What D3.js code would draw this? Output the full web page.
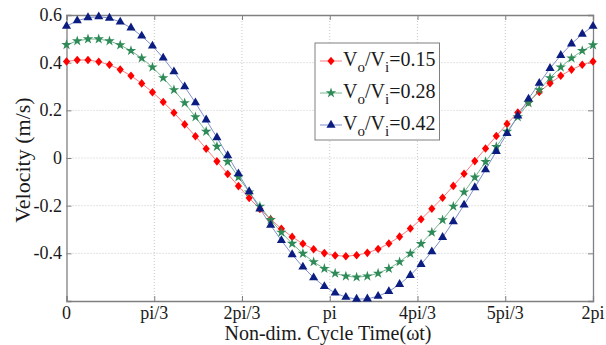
<!DOCTYPE html>
<html><head><meta charset="utf-8">
<script src="https://cdn.jsdelivr.net/npm/d3@7"></script>
<style>body{margin:0;background:#fff}svg{display:block}</style>
</head><body>
<svg id="c" width="606" height="345"></svg>
<script>
// ---- data ----
const xTickValues = [0, Math.PI/3, 2*Math.PI/3, Math.PI, 4*Math.PI/3, 5*Math.PI/3, 2*Math.PI];
const xTickLabels = ["0","pi/3","2pi/3","pi","4pi/3","5pi/3","2pi"];
const yTickValues = [-0.4,-0.2,0,0.2,0.4,0.6];
const yTickLabels = ["-0.4","-0.2","0","0.2","0.4","0.6"];
const ratioLabels = ["0.15","0.28","0.42"];
const v015 = [0.405,0.411,0.411,0.404,0.391,0.371,0.345,0.313,0.276,0.235,0.190,0.141,0.091,0.039,-0.014,-0.067,-0.118,-0.168,-0.214,-0.257,-0.297,-0.331,-0.360,-0.383,-0.399,-0.409,-0.412,-0.408,-0.398,-0.382,-0.359,-0.330,-0.296,-0.257,-0.213,-0.167,-0.117,-0.066,-0.013,0.040,0.092,0.143,0.191,0.236,0.277,0.314,0.345,0.371,0.391,0.405];
const v028 = [0.475,0.491,0.499,0.499,0.491,0.474,0.450,0.419,0.381,0.336,0.286,0.231,0.172,0.111,0.048,-0.016,-0.080,-0.143,-0.203,-0.259,-0.312,-0.359,-0.401,-0.436,-0.464,-0.484,-0.496,-0.500,-0.496,-0.484,-0.464,-0.436,-0.401,-0.360,-0.312,-0.260,-0.203,-0.143,-0.081,-0.016,0.047,0.111,0.172,0.231,0.286,0.336,0.381,0.419,0.450,0.474];
const v042 = [0.553,0.576,0.589,0.593,0.587,0.571,0.546,0.512,0.470,0.420,0.362,0.299,0.232,0.160,0.086,0.010,-0.066,-0.141,-0.213,-0.282,-0.346,-0.405,-0.457,-0.502,-0.539,-0.566,-0.584,-0.592,-0.591,-0.580,-0.560,-0.530,-0.492,-0.446,-0.393,-0.333,-0.267,-0.197,-0.124,-0.049,0.028,0.103,0.177,0.248,0.314,0.376,0.431,0.479,0.520,0.553];

// ---- layout ----
const svg = d3.select("#c");
const L = 66.5, R = 593, T = 15, B = 301;
const FONT = "'Liberation Serif','Times New Roman',serif";
const TXT = "#1a1a1a";
const x = d3.scaleLinear().domain([0, 2*Math.PI]).range([L, R]);
const y = d3.scaleLinear().domain([-0.6, 0.6]).range([B, T]);
const n = v015.length;
const tAt = i => i * 2 * Math.PI / (n - 1);

// grid
const g = svg.append("g");
g.selectAll(".gx").data(xTickValues.slice(1, -1)).enter().append("line")
  .attr("x1", d => x(d)).attr("x2", d => x(d)).attr("y1", T).attr("y2", B)
  .attr("stroke", "#c8c8c8").attr("stroke-width", 1).attr("stroke-dasharray", "1,2");
g.selectAll(".gy").data(yTickValues.filter(v => v > -0.6 && v < 0.6)).enter().append("line")
  .attr("y1", d => y(d)).attr("y2", d => y(d)).attr("x1", L).attr("x2", R)
  .attr("stroke", "#c8c8c8").attr("stroke-width", 1).attr("stroke-dasharray", "1,2");

// axes with inward ticks on all four sides
const AX = "#808080";
const axB = d3.axisBottom(x).tickValues(xTickValues).tickSize(-5).tickFormat("");
const axT = d3.axisTop(x).tickValues(xTickValues).tickSize(-5).tickFormat("");
const axL = d3.axisLeft(y).tickValues(yTickValues).tickSize(-5).tickFormat("");
const axR = d3.axisRight(y).tickValues(yTickValues).tickSize(-5).tickFormat("");
[[axB, `translate(0,${B})`], [axT, `translate(0,${T})`], [axL, `translate(${L},0)`], [axR, `translate(${R},0)`]]
  .forEach(([a, tr]) => {
    const s = svg.append("g").attr("transform", tr).call(a);
    s.selectAll("path").attr("stroke", AX).attr("stroke-width", 1.3);
    s.selectAll("line").attr("stroke", AX).attr("stroke-width", 1);
  });

// tick labels
svg.append("g").selectAll("text").data(xTickValues).enter().append("text")
  .attr("x", d => x(d)).attr("y", 319).attr("text-anchor", "middle")
  .attr("font-family", FONT).attr("font-size", 18).attr("fill", TXT)
  .text((d, i) => xTickLabels[i]);
svg.append("g").selectAll("text").data(yTickValues).enter().append("text")
  .attr("x", 62).attr("y", d => y(d)).attr("dy", "0.34em").attr("text-anchor", "end")
  .attr("font-family", FONT).attr("font-size", 18).attr("fill", TXT)
  .text((d, i) => yTickLabels[i]);

// axis titles
svg.append("text").attr("x", 328).attr("y", 339.5).attr("text-anchor", "middle")
  .attr("font-family", FONT).attr("font-size", 20).attr("fill", TXT)
  .text("Non-dim. Cycle Time(\u03C9t)");
svg.append("text").attr("transform", `translate(30,160) rotate(-90)`)
  .attr("text-anchor", "middle")
  .attr("font-family", FONT).attr("font-size", 22).attr("fill", TXT)
  .text("Velocity (m/s)");

// series
const diamond = "M0,-4.3L3.6,0L0,4.3L-3.6,0Z";
const series = [
  { vals: v015, line: "#ff7a7a", fill: "#ff0000", sym: diamond },
  { vals: v028, line: "#79b894", fill: "#2e8b57", sym: d3.symbol(d3.symbolStar, 34)() },
  { vals: v042, line: "#7f8fcc", fill: "#0b1d80", sym: d3.symbol(d3.symbolTriangle, 36)() }
];
const lineGen = d3.line().x((d, i) => x(tAt(i))).y(d => y(d));
series.forEach(s => {
  svg.append("path").attr("d", lineGen(s.vals)).attr("fill", "none")
    .attr("stroke", s.line).attr("stroke-width", 1);
});
series.forEach(s => {
  svg.append("g").selectAll("path").data(s.vals).enter().append("path")
    .attr("d", s.sym)
    .attr("transform", (d, i) => `translate(${x(tAt(i))},${y(d)})`)
    .attr("fill", s.fill).attr("stroke", "none");
});

// legend
const lg = svg.append("g");
lg.append("rect").attr("x", 315).attr("y", 43).attr("width", 124.5).attr("height", 97)
  .attr("fill", "#fff").attr("stroke", AX).attr("stroke-width", 1);
const rowY = [61, 93, 125];
series.forEach((s, i) => {
  const yy = rowY[i];
  lg.append("line").attr("x1", 320).attr("x2", 342).attr("y1", yy).attr("y2", yy)
    .attr("stroke", s.line).attr("stroke-width", 1);
  lg.append("path").attr("d", s.sym).attr("transform", `translate(331,${yy})`).attr("fill", s.fill);
  const t = lg.append("text").attr("x", 343).attr("y", yy + 4.5)
    .attr("font-family", FONT).attr("font-size", 20).attr("fill", TXT);
  t.append("tspan").text("V");
  t.append("tspan").attr("font-size", 15).attr("dy", 6.5).text("o");
  t.append("tspan").attr("dy", -6.5).text("/V");
  t.append("tspan").attr("font-size", 15).attr("dy", 6.5).text("i");
  t.append("tspan").attr("dy", -6.5).text("=" + ratioLabels[i]);
});
</script>
</body></html>
